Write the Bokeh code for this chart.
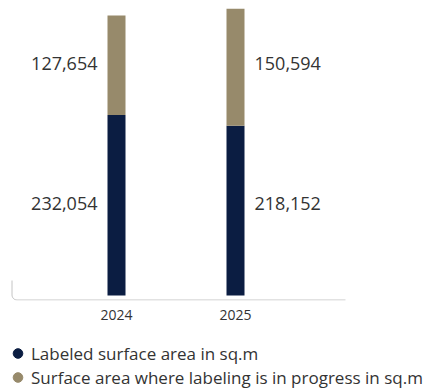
import numpy as np
from bokeh.plotting import figure
from bokeh.layouts import column
from bokeh.models import ColumnDataSource, Range1d, FixedTicker, Legend, LegendItem
from bokeh.core.properties import value
from bokeh.embed import file_html
from bokeh.resources import INLINE

# ---- data ----
years = [2024, 2025]
labeled = [232054, 218152]
in_progress = [127654, 150594]
series_keys = ["labeled", "in_progress"]
series_names = ["Labeled surface area in sq.m",
                "Surface area where labeling is in progress in sq.m"]
colors = ["#0b1d42", "#978a6b"]

FONT = "Open Sans"
TEXT_COLOR = "#333333"

# ---- layout (pixels) ----
W = 426
H_MAIN = 330
H_LEG = 62
TOP = 8                  # frame top (page px)
BASE = 295               # bar baseline (page px)
FRAME_BOTTOM = 300       # frame bottom (page px)
PX_PER_YEAR = 119
BAR_PX = 18

totals = [a + b for a, b in zip(labeled, in_progress)]
y_top = max(totals)
upp = y_top / float(BASE - TOP)          # data units per pixel
y_start = -(FRAME_BOTTOM - BASE) * upp
x_start = years[0] - 116.0 / PX_PER_YEAR
x_end = x_start + W / PX_PER_YEAR


def dx(px):
    return x_start + px / PX_PER_YEAR


def dy(py):
    return y_top - (py - TOP) * upp


p = figure(width=W, height=H_MAIN,
           x_range=Range1d(x_start, x_end), y_range=Range1d(y_start, y_top),
           output_backend="svg", toolbar_location=None, y_axis_location=None,
           min_border_left=0, min_border_right=0, min_border_top=TOP,
           min_border_bottom=H_MAIN - FRAME_BOTTOM, outline_line_color=None)
p.grid.visible = False

src = ColumnDataSource(dict(x=years, labeled=labeled, in_progress=in_progress))
p.vbar_stack(series_keys, x="x", width=BAR_PX / PX_PER_YEAR, source=src,
             fill_color=colors, line_color=None)

# value labels: left of first bar, right of second bar, rows at first bar's segment centres
row_y = [labeled[0] / 2.0, labeled[0] + in_progress[0] / 2.0]
lx, ly, lt, la, lo = [], [], [], [], []
for i, series in enumerate([labeled, in_progress]):
    for j, yr in enumerate(years):
        lx.append(yr)
        ly.append(row_y[i])
        lt.append(f"{series[j]:,}")
        la.append("right" if j == 0 else "left")
        lo.append(-19 if j == 0 else 19)
p.text(x=lx, y=ly, text=lt, text_align=la, x_offset=lo, y_offset=-2,
       text_baseline="middle", text_font=value(FONT), text_font_size="18px",
       text_color=TEXT_COLOR)

# rounded axis frame (decoration)
r = 5.0
cx, cy = 16.5, 294.5
t = np.linspace(0, np.pi / 2, 8)
fx = [11.5, 11.5] + list(cx - r * np.cos(t)) + [345.0]
fy = [280.0, cy] + list(cy + r * np.sin(t)) + [299.5]
p.line([dx(v) for v in fx], [dy(v) for v in fy], line_color="#c4c4c4", line_width=1)

# x axis
ax = p.xaxis[0]
ax.ticker = FixedTicker(ticks=years)
ax.axis_line_color = None
ax.major_tick_line_color = None
ax.minor_tick_line_color = None
ax.major_label_standoff = 3
ax.major_label_text_font = FONT
ax.major_label_text_font_size = "14px"
ax.major_label_text_color = TEXT_COLOR

# legend figure
lf = figure(width=W, height=H_LEG, x_range=Range1d(0, 1), y_range=Range1d(0, 1),
            output_backend="svg", toolbar_location=None, x_axis_location=None,
            y_axis_location=None, min_border=0, outline_line_color=None)
lf.grid.visible = False
items = []
for name, c in zip(series_names, colors):
    # legend proxy: a single point that is never drawn (NaN)
    rr = lf.scatter(x=[np.nan], y=[np.nan], marker="circle", fill_color=c, line_color=c)
    items.append(LegendItem(label=name, renderers=[rr]))
legend = Legend(items=items, location=(5, 3), orientation="vertical",
                glyph_width=25, glyph_height=24, label_height=24, spacing=0,
                padding=0, margin=0, label_standoff=1, border_line_color=None,
                background_fill_alpha=0, label_text_font=FONT,
                label_text_font_size="17px", label_text_color=TEXT_COLOR,
                label_text_baseline="middle")
lf.add_layout(legend)

layout = column(p, lf, spacing=0)
open("out.html", "w").write(file_html(layout, INLINE))
